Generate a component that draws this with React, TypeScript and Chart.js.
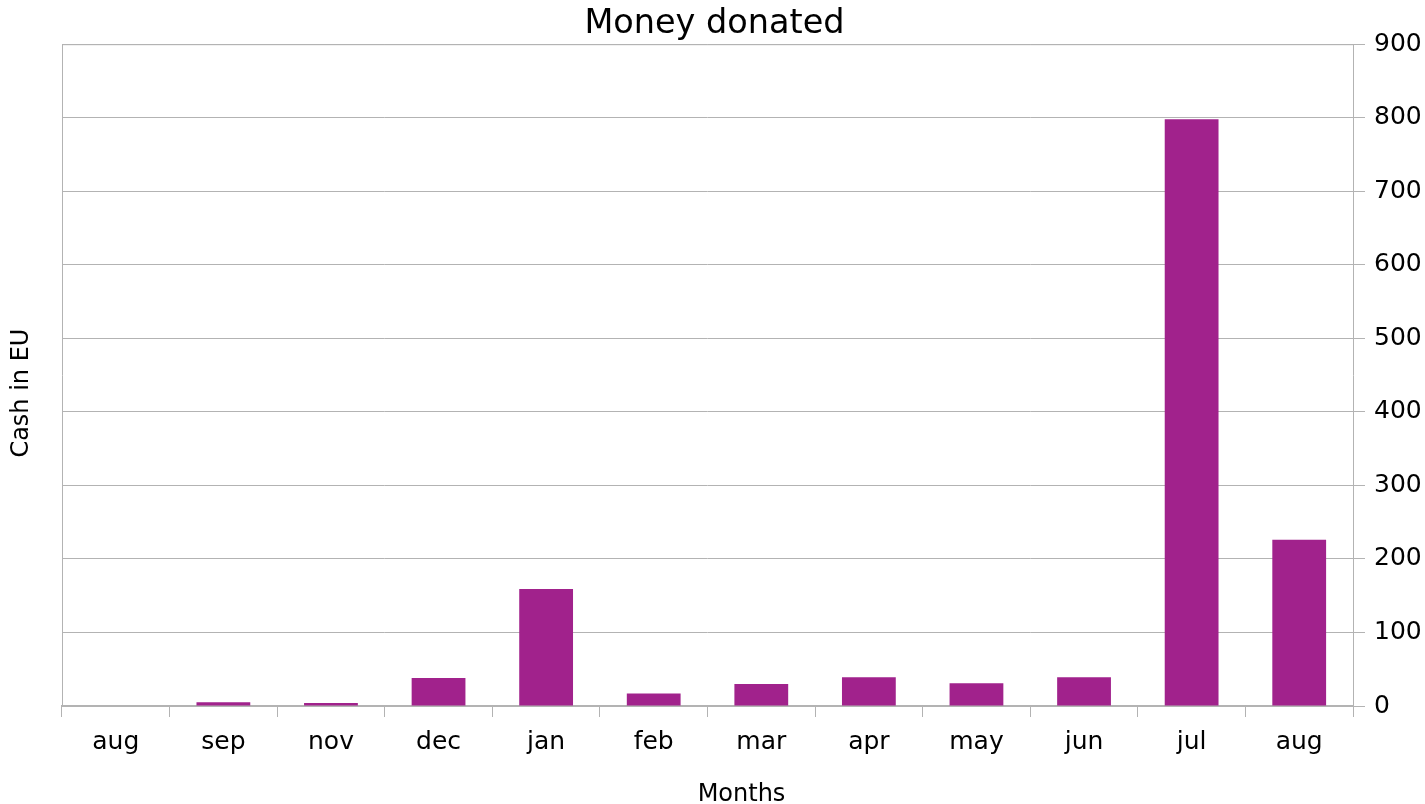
import React, { useEffect, useRef } from "react";
import { Chart, registerables } from "chart.js";

Chart.register(...registerables);

const categories = ["aug", "sep", "nov", "dec", "jan", "feb", "mar", "apr", "may", "jun", "jul", "aug"];
const donations = [0, 5, 4, 38, 159, 17, 30, 39, 31, 39, 798, 226];
const yTicks = [0, 100, 200, 300, 400, 500, 600, 700, 800, 900];
const xTitle = "Months";
const yTitle = "Cash in EU";

const GRID = "#b3b3b3";
const BAR = "#a1228c";
const FONT = "'DejaVu Sans', sans-serif";

const frame = {
  id: "frame",
  afterDatasetsDraw(chart: any) {
    const { ctx, chartArea } = chart;
    ctx.save();
    ctx.strokeStyle = GRID;
    ctx.lineWidth = 1;
    ctx.beginPath();
    ctx.moveTo(chartArea.left + 0.5, chartArea.bottom);
    ctx.lineTo(chartArea.left + 0.5, chartArea.top + 0.5);
    ctx.lineTo(chartArea.right, chartArea.top + 0.5);
    ctx.stroke();
    // axis titles
    ctx.fillStyle = "#000";
    ctx.font = `24px ${FONT}`;
    ctx.textAlign = "center";
    ctx.textBaseline = "middle";
    const cx = (chartArea.left + chartArea.right) / 2;
    ctx.fillText(xTitle, cx + 34, chart.height - 9);
    const cy = (chartArea.top + chartArea.bottom) / 2;
    ctx.translate(22, cy + 18);
    ctx.rotate(-Math.PI / 2);
    ctx.fillText(yTitle, 0, 0);
    ctx.restore();
  },
};

export default function App() {
  const ref = useRef<HTMLCanvasElement>(null);
  useEffect(() => {
    const chart = new Chart(ref.current!, {
      type: "bar",
      data: {
        labels: categories,
        datasets: [
          {
            data: donations,
            backgroundColor: BAR,
            barPercentage: 0.5,
            categoryPercentage: 1,
            yAxisID: "y",
          },
        ],
      },
      plugins: [frame],
      options: {
        animation: false,
        responsive: false,
        layout: { padding: { left: 4, right: 0, top: 0, bottom: 37 } },
        plugins: {
          legend: { display: false },
          tooltip: { enabled: false },
          title: {
            display: true,
            text: "Money donated",
            color: "#000",
            font: { family: FONT, size: 33.5, weight: "normal" },
            padding: { top: 4, bottom: 0 },
          },
        },
        scales: {
          x: {
            grid: {
              offset: true,
              drawOnChartArea: false,
              drawTicks: true,
              tickLength: 11,
              color: GRID,
            },
            border: { display: true, color: GRID, width: 2 },
            ticks: { color: "#000", font: { family: FONT, size: 25 }, padding: 10 },
          },
          y: {
            position: "right",
            min: 0,
            max: 900,
            afterBuildTicks: (axis: any) => {
              axis.ticks = yTicks.map((v) => ({ value: v }));
            },
            afterFit: (axis: any) => {
              axis.width = 72;
            },
            grid: { color: GRID, tickLength: 12, drawTicks: true },
            border: { display: true, color: GRID, width: 1 },
            ticks: { color: "#000", font: { family: FONT, size: 25 }, padding: 9 },
          },
          yLeft: {
            position: "left",
            min: 0,
            max: 900,
            grid: { display: false },
            border: { display: false },
            ticks: { display: false },
            afterFit: (axis: any) => {
              axis.width = 58;
            },
          },
        },
      },
    });
    return () => chart.destroy();
  }, []);
  return (
    <div style={{ position: "fixed", left: 0, top: 0, width: 1425, height: 804, background: "#fff" }}>
      <canvas ref={ref} width={1425} height={804} style={{ width: 1425, height: 804 }} />
    </div>
  );
}
